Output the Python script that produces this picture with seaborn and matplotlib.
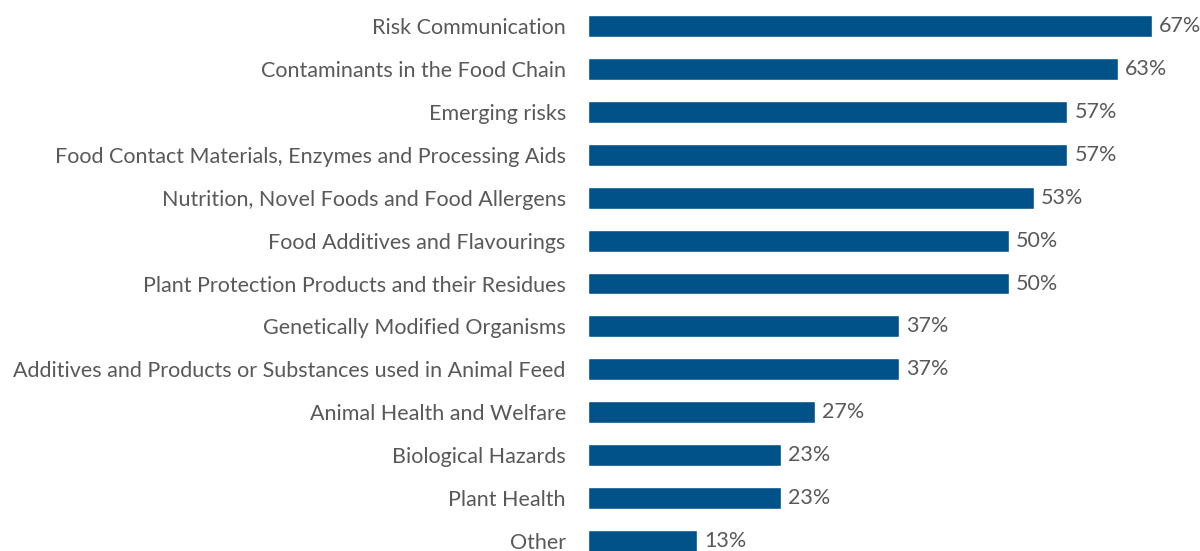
import matplotlib
matplotlib.use("Agg")
import matplotlib.pyplot as plt
import seaborn as sns
import pandas as pd

topics = [
    "Risk Communication",
    "Contaminants in the Food Chain",
    "Emerging risks",
    "Food Contact Materials, Enzymes and Processing Aids",
    "Nutrition, Novel Foods and Food Allergens",
    "Food Additives and Flavourings",
    "Plant Protection Products and their Residues",
    "Genetically Modified Organisms",
    "Additives and Products or Substances used in Animal Feed",
    "Animal Health and Welfare",
    "Biological Hazards",
    "Plant Health",
    "Other",
]
shares = [67, 63, 57, 57, 53, 50, 50, 37, 37, 27, 23, 23, 13]

df = pd.DataFrame({"topic": topics, "share": shares})

sns.set_theme(style="white")
plt.rcParams["font.family"] = ["Lato", "DejaVu Sans"]

BAR = "#02528A"
TEXT = "#595959"
FS = 15.5

fig = plt.figure(figsize=(12, 5.51), dpi=100)
ax = fig.add_axes([0.49, 0.0, 0.5033, 1.0])

sns.barplot(data=df, y="topic", x="share", orient="h", color=BAR,
            width=0.51, saturation=1, ax=ax)

for bar, v in zip(ax.patches, shares):
    ax.annotate(f"{v}%", xy=(bar.get_width(), bar.get_y() + bar.get_height() / 2),
                xytext=(5, 0), textcoords="offset points", ha="left", va="center",
                fontsize=FS, color=TEXT)

ax.set_xlim(0, 71.8)
ax.set_ylim(12.233, -0.606)
ax.set_xlabel("")
ax.set_ylabel("")
ax.set_xticks([])
ax.tick_params(axis="y", length=0, pad=16, labelsize=FS, labelcolor=TEXT)
for s in ax.spines.values():
    s.set_visible(False)

fig.savefig("out.png", dpi=100)
